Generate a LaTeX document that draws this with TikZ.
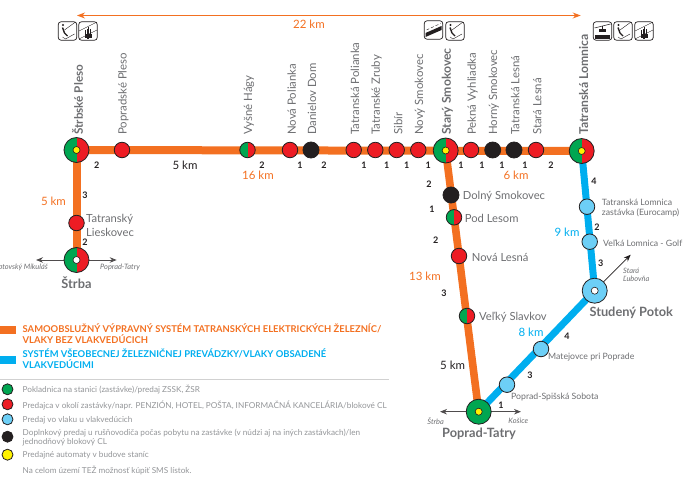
\documentclass[tikz,border=0pt]{standalone}
\usepackage{fontspec}
\setmainfont{Lato}
\usepackage{tkz-euclide}
\usetikzlibrary{arrows.meta}
\definecolor{railorange}{HTML}{F37021}
\definecolor{railblue}{HTML}{00AEEF}
\definecolor{stopblue}{HTML}{6DCFF6}
\definecolor{stopred}{HTML}{ED1C24}
\definecolor{stopgreen}{HTML}{00A651}
\definecolor{stopyellow}{HTML}{FFF200}
\definecolor{stopblack}{HTML}{231F20}
\definecolor{labelgray}{HTML}{6D6E71}
\definecolor{notegray}{HTML}{939598}
\tikzset{>={Stealth[length=7pt,width=5.5pt]}}
\newcommand{\fsz}[1]{\fontsize{#1}{#1}\selectfont}
\tikzset{
  orangerail/.style={line width=8pt,line cap=butt,color=railorange},
  bluerail/.style={line width=7pt,line cap=butt,color=railblue},
  dirline/.style={line width=0.8pt,color=stopblack!80,<->},
  stopbase/.style={circle,draw=stopblack,line width=0.8pt,inner sep=0pt,minimum size=15.5pt},
  redstop/.style={stopbase,fill=stopred},
  blackstop/.style={stopbase,fill=stopblack,minimum size=16pt},
  bluestop/.style={stopbase,fill=stopblue},
  splitstop/.style={stopbase,path picture={
    \fill[stopgreen] (path picture bounding box.south west) rectangle (path picture bounding box.north);
    \fill[stopred] (path picture bounding box.south) rectangle (path picture bounding box.north east);}},
  bigstop/.style={splitstop,minimum size=25pt},
  bigblue/.style={bluestop,minimum size=25pt},
  biggreen/.style={stopbase,fill=stopgreen,minimum size=25pt},
  whitedot/.style={circle,draw=stopblack,line width=0.6pt,fill=white,inner sep=0pt,minimum size=7pt},
  yellowdot/.style={circle,draw=stopblack,line width=0.6pt,fill=stopyellow,inner sep=0pt,minimum size=7pt},
  keydot/.style={circle,draw=stopblack,line width=0.8pt,inner sep=0pt,minimum size=11pt},
  toplabel/.style={rotate=90,anchor=west,inner sep=0pt,text=labelgray,font=\fsz{11.4}},
  topbold/.style={toplabel,font=\fsz{12.2}\bfseries},
  sidelabel/.style={anchor=west,inner sep=0pt,text=labelgray,font=\fsz{11.2}},
  smalllabel/.style={anchor=west,inner sep=0pt,text=labelgray,font=\fsz{8.7}},
  bigname/.style={inner sep=0pt,text=labelgray,font=\fsz{12.8}\bfseries},
  dirname/.style={inner sep=0pt,text=labelgray,font=\fsz{7.4}\itshape},
  num/.style={inner sep=0pt,text=stopblack,font=\fsz{9}\bfseries},
  kmorange/.style={inner sep=0pt,text=railorange,font=\fsz{11.5}},
  kmblue/.style={inner sep=0pt,text=railblue,font=\fsz{11.5}},
  kmdark/.style={inner sep=0pt,text=stopblack,font=\fsz{11.5}},
  keyhead/.style={anchor=west,inner sep=0pt,font=\fsz{9.4}\bfseries},
  keytext/.style={anchor=west,inner sep=0pt,text=notegray,font=\fsz{8.2}},
  iconbox/.pic={\draw[stopblack,line width=0.7pt,fill=white,rounded corners=3pt] (-9.3,-9.3) rectangle (9.3,9.3);},
  iconski/.pic={\pic {iconbox};
    \fill[stopblack] (-4.5,-6) circle (1.1);
    \draw[stopblack,line width=1.4pt] (-5,-3.5) -- (-3,2) -- (0,5);
    \draw[stopblack,line width=0.4pt] (-3,-1) -- (8,-9);
    \draw[stopblack,line width=0.4pt] (-5,6) -- (-2,8) -- (7,3);},
  iconchair/.pic={\pic {iconbox};
    \draw[stopblack,line width=0.4pt] (-9,0) -- (9,-9);
    \draw[stopblack,line width=0.4pt] (-9,8) -- (9,-1);
    \draw[stopblack,line width=1pt] (-2.4,-1) -- (-2.4,7);
    \draw[stopblack,line width=1pt] (-0.8,-2) -- (-0.8,8);
    \draw[stopblack,line width=1pt] (0.8,-4) -- (0.8,8);
    \draw[stopblack,line width=1pt] (2.4,-2) -- (2.4,7);
    \fill[stopblack] (-3,3) rectangle (3.5,6.5);},
  iconfunic/.pic={\pic {iconbox};
    \fill[stopblack] (-8,3) -- (8,-4) -- (8,0) -- (-8,7) -- cycle;
    \draw[stopblack,line width=0.4pt,densely dashed] (-7,0) -- (7,-6.5);},
  iconcable/.pic={\pic {iconbox};
    \fill[stopblack] (-7.5,3.5) rectangle (7.5,8);
    \draw[stopblack,line width=0.5pt] (-8,-3) -- (8,-7);
    \fill[stopblack] (-4,-2) rectangle (3,0.5);
    \draw[stopblack,line width=0.5pt] (0,-5) -- (0,-2);}
}
\begin{document}
\begin{tikzpicture}[x=1pt,y=-1pt]
    \useasboundingbox (0,0) rectangle (688,479);
    \tkzDefPoints{76.5/150/SP, 122/150/PP, 247.5/150/VH, 290/150/NP, 311/150/DD, 353.7/150/TP, 375.3/150/TZ, 396.7/150/SB, 418.3/150/NS, 445.7/150.5/SS, 471/150/PV, 492.7/150/HS, 514/150/TL, 536/150/SL, 581.7/151/TA}
    \tkzDefPoints{76.5/223/LI, 76.5/260/ST, 451/195/DS, 454/217.3/PS, 459/256/NL, 467/316/VS, 478.7/411.7/PT}
    \tkzDefPoints{587/206.7/EU, 589.7/241.7/VG, 594.7/290.7/SU, 541/349/MA, 507/384.7/SO}
    \tkzDefPoints{77/15.5/KL, 580.7/15.5/KR, 36/260/SW, 116.7/260/SE, 440/411.7/PW, 521/411.7/PE, 630.7/254.7/LU}
    \tkzDefPoints{0/329.5/OA, 15.5/329.5/OB, 0/360/BA, 15.5/360/BB, 0/379.3/RA, 389/379.3/RB}
    \tkzDrawSegments[line width=1pt,color=railorange,<->,>={Stealth[length=8pt,width=6pt]}](KL,KR)
    \tkzDrawSegments[orangerail,line width=7.6pt](SS,PT)
    \tkzDrawSegments[bluerail](TA,SU SU,PT)
    \tkzDrawSegments[orangerail](SP,TA SP,ST OA,OB)
    \tkzDrawSegments[bluerail,line width=8pt](BA,BB)
    \tkzDrawSegments[dirline](SW,SE PW,PE)
    \tkzDrawSegments[line width=0.8pt,color=stopblack,->](SU,LU)
    \tkzDrawSegments[line width=1pt,line cap=butt,color=black!18](RA,RB)
    % stations on the main line
    \node[bigstop] (SP) at (SP) {};
    \node[redstop] (PP) at (PP) {};
    \node[splitstop] (VH) at (VH) {};
    \node[redstop] (NP) at (NP) {};
    \node[blackstop] (DD) at (DD) {};
    \node[redstop] (TP) at (TP) {};
    \node[redstop] (TZ) at (TZ) {};
    \node[redstop] (SB) at (SB) {};
    \node[redstop] (NS) at (NS) {};
    \node[bigstop] (SS) at (SS) {};
    \node[redstop] (PV) at (PV) {};
    \node[blackstop] (HS) at (HS) {};
    \node[blackstop] (TL) at (TL) {};
    \node[redstop] (SL) at (SL) {};
    \node[bigstop] (TA) at (TA) {};
    \node[yellowdot] (SPy) at (SP) {};
    \node[yellowdot] (SSy) at (SS) {};
    \node[yellowdot] (TAy) at (TA) {};
    % branches
    \node[redstop] (LI) at (LI) {};
    \node[bigstop] (ST) at (ST) {};
    \node[whitedot] (STw) at (ST) {};
    \node[blackstop] (DS) at (DS) {};
    \node[splitstop] (PS) at (PS) {};
    \node[redstop] (NL) at (NL) {};
    \node[splitstop] (VS) at (VS) {};
    \node[biggreen] (PT) at (PT) {};
    \node[yellowdot] (PTy) at (PT) {};
    \node[bluestop] (EU) at (EU) {};
    \node[bluestop] (VG) at (VG) {};
    \node[bigblue] (SU) at (SU) {};
    \node[whitedot] (SUw) at (SU) {};
    \node[bluestop] (MA) at (MA) {};
    \node[bluestop] (SO) at (SO) {};
    % names along the top
    \node[topbold,font=\fsz{11.7}\bfseries] (nSP) at (77.7,135) {Štrbské Pleso};
    \node[toplabel] (nPP) at (123.3,135) {Popradské Pleso};
    \node[toplabel] (nVH) at (249,135) {Vyšné Hágy};
    \node[toplabel] (nNP) at (291.7,135) {Nová Polianka};
    \node[toplabel] (nDD) at (312,135) {Danielov Dom};
    \node[toplabel] (nTP) at (355,135) {Tatranská Polianka};
    \node[toplabel] (nTZ) at (376.7,135) {Tatranské Zruby};
    \node[toplabel] (nSB) at (398.3,135) {Sibír};
    \node[toplabel] (nNS) at (420,135) {Nový Smokovec};
    \node[topbold] (nSS) at (447.3,135) {Starý Smokovec};
    \node[toplabel] (nPV) at (472.7,135) {Pekná Vyhliadka};
    \node[toplabel] (nHS) at (494,135) {Horný Smokovec};
    \node[toplabel] (nTL) at (515.3,135) {Tatranská Lesná};
    \node[toplabel] (nSL) at (537.3,135) {Stará Lesná};
    \node[topbold] (nTA) at (583.7,135) {Tatranská Lomnica};
    % names at the branches
    \node[sidelabel,align=left] (nLI) at (86,225) {Tatranský\\[2.8pt]Lieskovec};
    \node[sidelabel] (nDS) at (462.7,196) {Dolný Smokovec};
    \node[sidelabel] (nPS) at (464.7,218) {Pod Lesom};
    \node[sidelabel] (nNL) at (471.7,257) {Nová Lesná};
    \node[sidelabel] (nVS) at (479,317.5) {Veľký Slavkov};
    \node[smalllabel,align=left] (nEU) at (601.7,208.3) {Tatranská Lomnica\\[1.5pt]zastávka (Eurocamp)};
    \node[smalllabel] (nVG) at (603,243) {Veľká Lomnica - Golf};
    \node[smalllabel] (nMA) at (548,357.3) {Matejovce pri Poprade};
    \node[smalllabel] (nSO) at (511,397) {Poprad-Spišská Sobota};
    \node[bigname] (nST) at (76.5,283) {Štrba};
    \node[bigname,anchor=west] (nSU) at (589.3,312.7) {Studený Potok};
    \node[bigname] (nPT) at (479,434) {Poprad-Tatry};
    \node[dirname,anchor=east] (dLM) at (48,267.7) {ptovský Mikuláš};
    \node[dirname,anchor=west] (dPT) at (100,267.7) {Poprad-Tatry};
    \node[dirname] (dST) at (435.7,421.3) {Štrba};
    \node[dirname] (dKO) at (518.3,421.3) {Košice};
    \node[dirname,anchor=west,align=left] (dLU) at (623,275) {Stará\\[0.6pt]Ľubovňa};
    % kilometres
    \node[kmorange] (k22) at (309,24.5) {22 km};
    \node[kmdark] (k5a) at (185,165.5) {5 km};
    \node[kmorange] (k16) at (258,175) {16 km};
    \node[kmorange] (k6) at (516,175) {6 km};
    \node[kmorange] (k5b) at (53.5,201.7) {5 km};
    \node[kmorange] (k13) at (425,276.7) {13 km};
    \node[kmdark] (k5c) at (452.7,365) {5 km};
    \node[kmblue] (k9) at (567,232) {9 km};
    \node[kmblue] (k8) at (531,332) {8 km};
    % numbers of minutes between stops
    \node[num] (m1) at (96.7,165.5) {2};
    \node[num] (m2) at (262,165.5) {2};
    \node[num] (m3) at (300,165.5) {1};
    \node[num] (m4) at (324,165.5) {2};
    \node[num] (m5) at (364,165.5) {1};
    \node[num] (m6) at (386.7,165.5) {1};
    \node[num] (m7) at (406.7,165.5) {1};
    \node[num] (m8) at (428.3,165.5) {1};
    \node[num] (m9) at (461,165.5) {1};
    \node[num] (m10) at (482,165.5) {1};
    \node[num] (m11) at (502,165.5) {1};
    \node[num] (m12) at (525,165.5) {1};
    \node[num] (m13) at (551,165.5) {2};
    \node[num] (m14) at (85,195) {3};
    \node[num] (m15) at (85,242.7) {2};
    \node[num] (m16) at (429,184) {2};
    \node[num] (m17) at (432,209) {1};
    \node[num] (m18) at (435.7,240) {2};
    \node[num] (m19) at (444,293.7) {3};
    \node[num] (m20) at (594,181) {4};
    \node[num] (m21) at (597,227) {2};
    \node[num] (m22) at (600.7,263.7) {3};
    \node[num] (m23) at (567,336) {4};
    \node[num] (m24) at (530,375) {3};
    \node[num] (m25) at (501,405) {1};
    % icons
    \pic at (67.5,31) {iconski};
    \pic at (88,31) {iconchair};
    \pic at (433.5,30) {iconfunic};
    \pic at (455,31) {iconski};
    \pic at (602.5,31) {iconcable};
    \pic at (623,31) {iconski};
    \pic at (644,31) {iconchair};
    % key
    \node[keyhead,text=railorange,align=left] (kO) at (22.5,333.2) {SAMOOBSLUŽNÝ VÝPRAVNÝ SYSTÉM TATRANSKÝCH ELEKTRICKÝCH ŽELEZNÍC/\\[1.6pt]VLAKY BEZ VLAKVEDÚCICH};
    \node[keyhead,text=railblue,align=left] (kB) at (22.5,358.8) {SYSTÉM VŠEOBECNEJ ŽELEZNIČNEJ PREVÁDZKY/VLAKY OBSADENÉ\\[1.6pt]VLAKVEDÚCIMI};
    \node[keydot,fill=stopgreen] (dA) at (7.5,389.3) {};
    \node[keydot,fill=stopred] (dB) at (7.5,404.3) {};
    \node[keydot,fill=stopblue] (dC) at (7.5,419.3) {};
    \node[keydot,fill=stopblack] (dD) at (7.5,436.7) {};
    \node[keydot,fill=stopyellow] (dE) at (7.5,454.7) {};
    \node[keytext] (tA) at (22.5,390) {Pokladnica na stanici (zastávke)/predaj ZSSK, ŽSR};
    \node[keytext] (tB) at (22.5,405) {Predajca v okolí zastávky/napr. PENZIÓN, HOTEL, POŠTA, INFORMAČNÁ KANCELÁRIA/blokové CL};
    \node[keytext] (tC) at (22.5,420) {Predaj vo vlaku u vlakvedúcich};
    \node[keytext,align=left] (tD) at (22.5,437.7) {Doplnkový predaj u rušňovodiča počas pobytu na zastávke (v núdzi aj na iných zastávkach)/len\\[0.5pt]jednodňový blokový CL};
    \node[keytext] (tE) at (22.5,455.3) {Predajné automaty v budove staníc};
    \node[keytext] (tF) at (22.5,470) {Na celom území TEŽ možnosť kúpiť SMS lístok.};
\end{tikzpicture}
\end{document}
